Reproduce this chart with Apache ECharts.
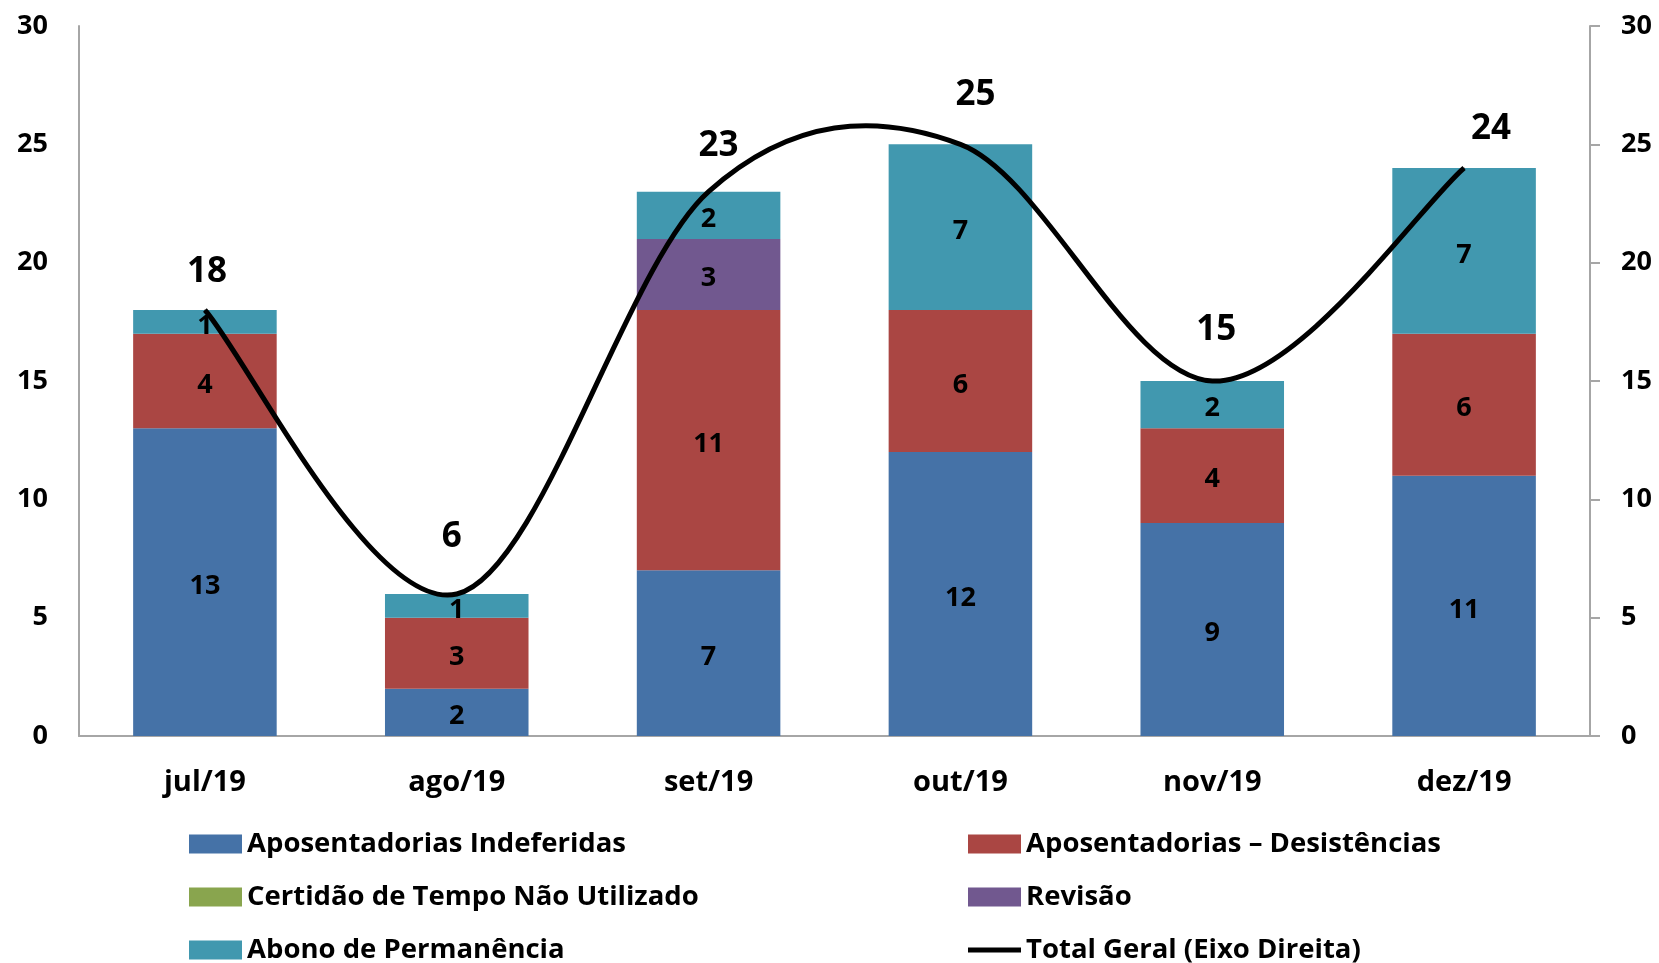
<!DOCTYPE html>
<html>
<head>
<meta charset="utf-8">
<script src="https://cdn.jsdelivr.net/npm/echarts@6/dist/echarts.min.js"></script>
<style>
  html, body { margin: 0; padding: 0; background: #fff; }
  #main { width: 1659px; height: 963px; }
</style>
</head>
<body>
<div id="main"></div>
<script>
// dados
const meses = ['jul/19', 'ago/19', 'set/19', 'out/19', 'nov/19', 'dez/19'];
const indeferidas = [13, 2, 7, 12, 9, 11];
const desistencias = [4, 3, 11, 6, 4, 6];
const certidao = [0, 0, 0, 0, 0, 0];
const revisao = [0, 0, 3, 0, 0, 0];
const abono = [1, 1, 2, 7, 2, 7];
const totalGeral = [18, 6, 23, 25, 15, 24];
const ticksY = [0, 5, 10, 15, 20, 25, 30];

const FONTE = '"Open Sans", "Noto Sans", sans-serif';
const NOME_TOTAL = 'Total Geral (Eixo Direita)';

// ajuste fino da posição dos rótulos do total (como estão no original)
const deslocRotuloTotal = [[2, 8], [-5, -11], [10, 0], [15, -3], [4, -5], [27, 7]];

let chart = echarts.init(document.getElementById('main'));

// esconde rótulo quando o valor é zero
const rotuloBarra = {
    show: true,
    position: 'inside',
    offset: [0, 4],
    color: '#000',
    fontFamily: FONTE,
    fontWeight: 'bold',
    fontSize: 27,
    formatter: p => (p.value ? p.value : '')
};

function serieBarra(nome, dados, cor) {
    return {
        name: nome,
        type: 'bar',
        stack: 'total',
        barCategoryGap: '43%',
        data: dados,
        itemStyle: { color: cor },
        label: rotuloBarra
    };
}

const eixoY = (lado) => ({
    type: 'value',
    position: lado,
    min: ticksY[0],
    max: ticksY[ticksY.length - 1],
    interval: 5,
    splitLine: { show: false },
    axisLine: { show: true, lineStyle: { color: '#A6A6A6', width: 2 } },
    axisTick: { show: lado === 'right', length: 10, lineStyle: { color: '#A6A6A6', width: 2 } },
    axisLabel: {
        margin: 31,
        color: '#000',
        fontFamily: FONTE,
        fontWeight: 'bold',
        fontSize: 27
    }
});

// cada item de legenda posicionado na sua linha/coluna
const textoLegenda = {
    color: '#000',
    fontFamily: FONTE,
    fontWeight: 'bold',
    fontSize: 27.5,
    lineHeight: 30
};
const colunasLegenda = [189, 968];
const linhasLegenda = [829, 882, 935];
const itensLegenda = [
    ['Aposentadorias Indeferidas', 'Aposentadorias – Desistências'],
    ['Certidão de Tempo Não Utilizado', 'Revisão'],
    ['Abono de Permanência', NOME_TOTAL]
];
let legendas = [];
itensLegenda.forEach((linha, i) => {
    linha.forEach((nome, j) => {
        legendas.push({
            left: colunasLegenda[j],
            top: linhasLegenda[i],
            padding: 0,
            itemWidth: 53,
            itemHeight: 19,
            textStyle: textoLegenda,
            data: [{
                name: nome,
                icon: nome === NOME_TOTAL ? 'path://M0,0H53V5H0Z' : 'rect'
            }]
        });
    });
});

// curva suavizada (Catmull-Rom, como no Excel) desenhada a partir dos pontos do eixo direito
function desenhaCurva(params, api) {
    if (params.dataIndex !== 0) return;
    let pts = totalGeral.map((v, i) => api.coord([i, v]));
    let n = pts.length;
    let path = 'M' + pts[0][0] + ',' + pts[0][1];
    for (let i = 0; i < n - 1; i++) {
        let p0 = pts[Math.max(i - 1, 0)];
        let p1 = pts[i];
        let p2 = pts[i + 1];
        let p3 = pts[Math.min(i + 2, n - 1)];
        let c1x = p1[0] + (p2[0] - p0[0]) / 6;
        let c1y = p1[1] + (p2[1] - p0[1]) / 6;
        let c2x = p2[0] - (p3[0] - p1[0]) / 6;
        let c2y = p2[1] - (p3[1] - p1[1]) / 6;
        path += ' C' + c1x + ',' + c1y + ' ' + c2x + ',' + c2y + ' ' + p2[0] + ',' + p2[1];
    }
    return {
        type: 'path',
        shape: { pathData: path },
        style: { fill: null, stroke: '#000', lineWidth: 5 }
    };
}

let option = {
    animation: false,
    backgroundColor: '#fff',
    grid: { left: 79, right: 69, top: 26, bottom: 227 },
    legend: legendas,
    xAxis: {
        type: 'category',
        data: meses,
        boundaryGap: true,
        axisLine: { lineStyle: { color: '#A6A6A6', width: 2 } },
        axisTick: { show: false },
        axisLabel: {
            margin: 32,
            color: '#000',
            fontFamily: FONTE,
            fontWeight: 'bold',
            fontSize: 29
        }
    },
    yAxis: [eixoY('left'), eixoY('right')],
    series: [
        serieBarra('Aposentadorias Indeferidas', indeferidas, '#4572A7'),
        serieBarra('Aposentadorias – Desistências', desistencias, '#AA4643'),
        serieBarra('Certidão de Tempo Não Utilizado', certidao, '#89A54E'),
        serieBarra('Revisão', revisao, '#71588F'),
        serieBarra('Abono de Permanência', abono, '#4198AF'),
        {
            // só os rótulos dos totais; a linha é a série custom abaixo
            name: NOME_TOTAL,
            type: 'line',
            yAxisIndex: 1,
            data: totalGeral.map((v, i) => ({
                value: v,
                label: { offset: deslocRotuloTotal[i] }
            })),
            symbol: 'circle',
            symbolSize: 1,
            z: 6,
            itemStyle: { color: '#000' },
            lineStyle: { opacity: 0 },
            label: {
                show: true,
                position: 'top',
                distance: 28,
                color: '#000',
                fontFamily: FONTE,
                fontWeight: 'bold',
                fontSize: 35
            }
        },
        {
            name: NOME_TOTAL,
            type: 'custom',
            yAxisIndex: 1,
            z: 5,
            data: totalGeral.map((v, i) => [i, v]),
            itemStyle: { color: '#000' },
            renderItem: desenhaCurva
        }
    ]
};

chart.setOption(option);
</script>
</body>
</html>
